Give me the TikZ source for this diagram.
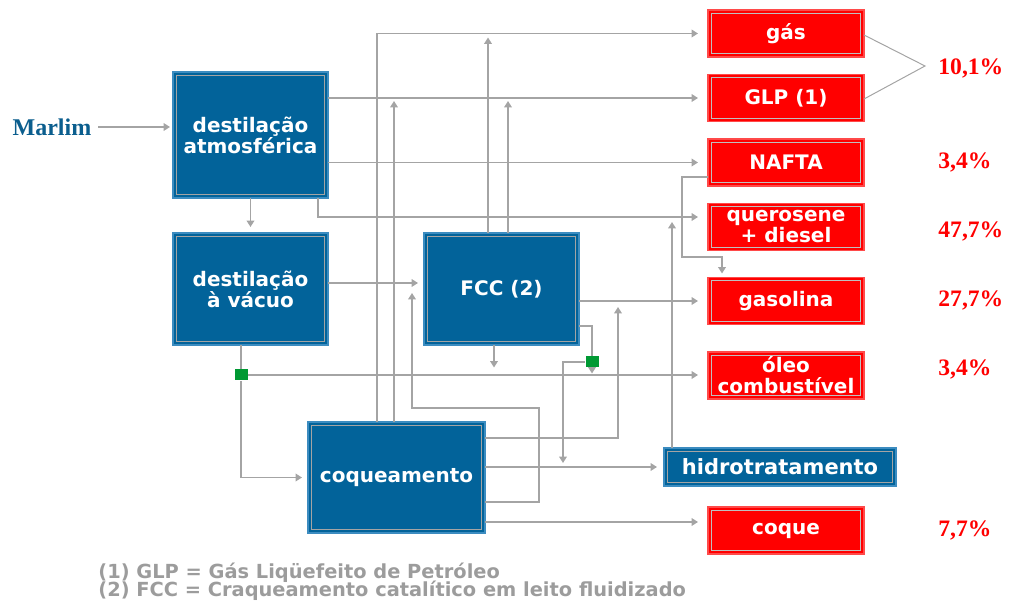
\documentclass[tikz,border=0pt]{standalone}
\usepackage{fontspec}
\setmainfont{DejaVu Sans}
\newfontfamily\numfont{Liberation Serif}
\usetikzlibrary{arrows.meta}

\definecolor{unitblue}{HTML}{02639A}
\definecolor{unitedge}{HTML}{3C8CC0}
\definecolor{prodred}{HTML}{FF0000}
\definecolor{prodedge}{HTML}{FF4A4A}
\definecolor{pipe}{HTML}{A4A4A4}
\definecolor{splitgreen}{HTML}{009933}
\definecolor{notegray}{HTML}{9C9C9C}
\definecolor{marlimblue}{HTML}{0B5E8E}

\begin{document}
\begin{tikzpicture}[x=0.5pt, y=-0.5pt,
    inset/.style={path picture={\draw[#1, line width=0.6pt]
        ([shift={(1.6pt,-1.6pt)}]path picture bounding box.north west) rectangle
        ([shift={(-1.6pt,1.6pt)}]path picture bounding box.south east);}},
    unit/.style={draw=unitedge, fill=unitblue, line width=0.6pt, inset=pipe,
        inner sep=0pt, outer sep=0pt, align=center, text=white,
        font=\fontsize{10}{10.5}\selectfont\bfseries},
    product/.style={unit, draw=prodedge, fill=prodred, inset=pipe!70,
        minimum width=78pt, minimum height=23.5pt},
    pct/.style={anchor=west, text=prodred, inner sep=0pt,
        font=\numfont\fontsize{11.8}{13}\selectfont\bfseries},
    note/.style={anchor=west, text=notegray, inner sep=0pt,
        font=\fontsize{9.7}{11}\selectfont\bfseries},
    split/.style={fill=splitgreen, inner sep=0pt, minimum width=6.5pt, minimum height=5.5pt},
    link/.style={draw=pipe, line width=0.85pt},
    flow/.style={link, -{Triangle[length=3.2pt, width=3.8pt]}},
    feed/.style={flow, shorten >=5pt}]
    \useasboundingbox (0,0) rectangle (1015,603);

    \node[unit, minimum width=77.5pt, minimum height=63pt] (atm) at (250.5,135) {destilação\\atmosférica};
    \node[unit, minimum width=77.5pt, minimum height=56pt] (vac) at (250.5,289) {destilação\\à vácuo};
    \node[unit, minimum width=77.5pt, minimum height=56pt] (fcc) at (501.5,289) {FCC (2)};
    \node[unit, minimum width=88.5pt, minimum height=55.5pt] (coq) at (396.5,477.5) {coqueamento};
    \node[unit, minimum width=116pt, minimum height=19pt,
        font=\fontsize{10.5}{11}\selectfont\bfseries] (hidro) at (780,467) {hidrotratamento};

    \node[product] (gas) at (786,33.5) {gás};
    \node[product] (glp) at (786,98) {GLP (1)};
    \node[product] (nafta) at (786,162.5) {NAFTA};
    \node[product] (quer) at (786,227) {querosene\\+ diesel};
    \node[product] (gasol) at (786,301) {gasolina};
    \node[product] (oleo) at (786,375.5) {óleo\\combustível};
    \node[product] (coque) at (786,530.5) {coque};

    \node[font=\numfont\fontsize{12}{14}\selectfont\bfseries, text=marlimblue] (marlim) at (52,127) {Marlim};

    \node[split] (s1) at (241,375) {};
    \node[split] (s2) at (592,362) {};
    \coordinate (qr) at ([yshift=5pt]quer.west);
    \coordinate (cq) at ([yshift=4.25pt]coque.west);

    \draw[flow, shorten >=1.5pt] (marlim.east) -- (marlim.east -| atm.west);
    \draw[flow, shorten >=3pt] (atm) -- (vac);
    \draw[feed] (atm.east |- glp) -- (glp);
    \draw[feed] (atm.east |- nafta) -- (nafta);
    \draw[feed] (318,0 |- atm.south) |- (qr);
    \draw[flow, shorten >=3pt] ([yshift=3pt]vac.east) -- ([yshift=3pt]fcc.west);
    \draw[link] (s1 |- vac.south) -- (s1.north);
    \draw[flow, shorten >=3pt] (s1.south) |- (coq);
    \draw[feed] (s1.east) -- (s1 -| oleo.west);

    \draw[feed] (377,0 |- coq.north) |- (gas);
    \draw[flow, shorten >=1.5pt] (394,0 |- coq.north) -- (394,0 |- glp);
    \draw[flow, shorten >=2pt] (488,0 |- fcc.north) -- (488,0 |- gas);
    \draw[flow, shorten >=1.5pt] (508,0 |- fcc.north) -- (508,0 |- glp);
    \draw[flow] ([yshift=-12.25pt]coq.east) -| (539,408) -| ([shift={(-6pt,-2pt)}]fcc.west);

    \draw[feed] (fcc.east |- gasol) -- (gasol);
    \draw[flow, shorten >=4pt] (494,0 |- fcc.south) -- (494,0 |- oleo);
    \draw[link] ([yshift=-18.5pt]fcc.east) -| (s2.north);
    \draw[flow, shorten >=1pt] (s2.south) -- (s2 |- oleo);
    \draw[flow, shorten >=2pt] (s2.west) -| (563,0 |- hidro);

    \draw[flow, shorten >=3pt] ([yshift=19.75pt]coq.east) -| (618,0 |- gasol);
    \draw[flow, shorten >=3.5pt] (coq.east |- hidro) -- (hidro);
    \draw[feed] (cq -| coq.east) -- (cq);
    \draw[flow, shorten >=2.5pt] (672,0 |- hidro.north) -- (672,0 |- qr);
    \draw[flow, shorten >=2pt] ([yshift=-7.25pt]nafta.west) -| (682,257) -| (722,0 |- gasol.north);

    \draw[draw=pipe, line width=0.5pt] ([yshift=-0.75pt]gas.east) -- (925,66) -- ([yshift=-0.5pt]glp.east);

    \node[pct] (p1) at (938,68) {10,1\%};
    \node[pct] (p2) at (938,162) {3,4\%};
    \node[pct] (p3) at (938,231) {47,7\%};
    \node[pct] (p4) at (938,300) {27,7\%};
    \node[pct] (p5) at (938,369) {3,4\%};
    \node[pct] (p6) at (938,530) {7,7\%};

    \node[note] (n1) at (98,573) {(1) GLP = Gás Liqüefeito de Petróleo};
    \node[note] (n2) at (98,591) {(2) FCC = Craqueamento catalítico em leito fluidizado};
\end{tikzpicture}
\end{document}
